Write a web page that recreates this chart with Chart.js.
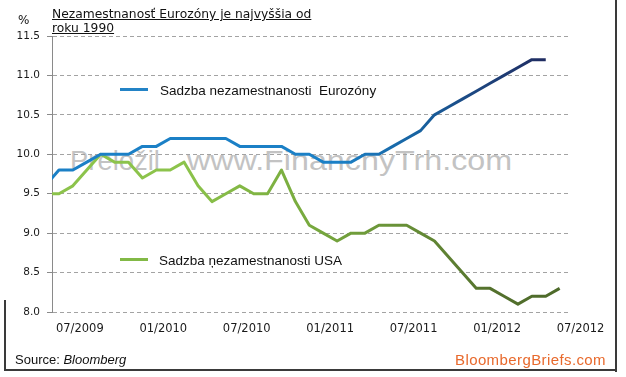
<!DOCTYPE html>
<html>
<head>
<meta charset="utf-8">
<script src="https://cdn.jsdelivr.net/npm/chart.js@4.4.1/dist/chart.umd.min.js"></script>
<style>
  body { margin: 0; background: #fff; }
  #wrap { position: relative; width: 626px; height: 377px; overflow: hidden; }
  #chart { position: absolute; left: 0; top: 0; z-index: 1; }
  .txt { position: absolute; z-index: 2; white-space: nowrap; line-height: 1; color: #111; }
  .wm { position: absolute; z-index: 0; white-space: nowrap; line-height: 1; color: #c3c3c3;
        font: 28px "Liberation Sans", Arial, sans-serif; top: 145px; transform-origin: 0 0; }
  .sample { position: absolute; z-index: 2; width: 28px; height: 3px; }
  .frame { position: absolute; background: #3a3a3a; z-index: 2; }
</style>
</head>
<body>
<div id="wrap">
  <span class="wm" id="wm1" style="left:70px">Preložil</span>
  <span class="wm" id="wm2" style="left:187px">www.FinancnyTrh.com</span>
  <canvas id="chart" width="626" height="377"></canvas>
  <div class="txt" style="left:18px; top:13px; font:12px 'DejaVu Sans', sans-serif;">%</div>
  <div class="txt" style="left:52px; top:7px; font:12.3px 'DejaVu Sans', sans-serif; line-height:14px; text-decoration:underline;">Nezamestnanosť Eurozóny je najvyššia od<br>roku 1990</div>
  <div class="sample" style="left:120px; top:88px; background:#2383c6;"></div>
  <div class="txt" style="left:160px; top:83px; font:13.5px 'Liberation Sans', Arial, sans-serif;">Sadzba nezamestnanosti&nbsp; Eurozóny</div>
  <div class="sample" style="left:120px; top:258px; background:#82b946;"></div>
  <div class="txt" style="left:159px; top:253px; font:13.5px 'Liberation Sans', Arial, sans-serif;">Sadzba ņezamestnanosti USA</div>
  <div class="txt" style="left:15px; top:352px; font:13px 'Liberation Sans', Arial, sans-serif;">Source: <i>Bloomberg</i></div>
  <div class="txt" style="right:20px; top:351px; font:15px 'Liberation Sans', Arial, sans-serif; letter-spacing:0.4px; color:#e8692c;">BloombergBriefs.com</div>
  <div class="frame" style="left:615px; top:0; width:2px; height:372px;"></div>
  <div class="frame" style="left:4px; top:369px; width:613px; height:2px;"></div>
  <div class="frame" style="left:4px; top:300px; width:2px; height:71px;"></div>
</div>
<script>
// months shown, Jun 2009 (cut off at the left edge) to Jul 2012
const months = ['06/2009', '07/2009', '08/2009', '09/2009', '10/2009', '11/2009', '12/2009',
  '01/2010', '02/2010', '03/2010', '04/2010', '05/2010', '06/2010', '07/2010', '08/2010',
  '09/2010', '10/2010', '11/2010', '12/2010', '01/2011', '02/2011', '03/2011', '04/2011',
  '05/2011', '06/2011', '07/2011', '08/2011', '09/2011', '10/2011', '11/2011', '12/2011',
  '01/2012', '02/2012', '03/2012', '04/2012', '05/2012', '06/2012', '07/2012'];

// Eurozone unemployment rate, %, (ends Jun 2012)
const euroRate = [9.6, 9.8, 9.8, 9.9, 10.0, 10.0, 10.0, 10.1, 10.1, 10.2, 10.2, 10.2, 10.2,
  10.2, 10.1, 10.1, 10.1, 10.1, 10.0, 10.0, 9.9, 9.9, 9.9, 10.0, 10.0, 10.1, 10.2, 10.3,
  10.5, 10.6, 10.7, 10.8, 10.9, 11.0, 11.1, 11.2, 11.2];

// US unemployment rate, %
const usRate = [9.5, 9.5, 9.6, 9.8, 10.0, 9.9, 9.9, 9.7, 9.8, 9.8, 9.9, 9.6, 9.4, 9.5, 9.6,
  9.5, 9.5, 9.8, 9.4, 9.1, 9.0, 8.9, 9.0, 9.0, 9.1, 9.1, 9.1, 9.0, 8.9, 8.7, 8.5, 8.3, 8.3,
  8.2, 8.1, 8.2, 8.2, 8.3];

const tickLabels = ['07/2009', '01/2010', '07/2010', '01/2011', '07/2011', '01/2012', '07/2012'];
const yTicks = [8.0, 8.5, 9.0, 9.5, 10.0, 10.5, 11.0, 11.5];

// watermark: stretch each part to the width it has in the original
[['wm1', 90], ['wm2', 325]].forEach(([id, w]) => {
    const el = document.getElementById(id);
    el.style.transform = 'scaleX(' + (w / el.offsetWidth) + ')';
});

// colour that darkens along the x axis
function fade(stops) {
    return (ctx) => {
        const chart = ctx.chart;
        const area = chart.chartArea;
        if (!area) return stops[0][1];
        const xs = chart.scales.x;
        const g = chart.ctx.createLinearGradient(area.left, 0, area.right, 0);
        stops.forEach(([idx, col]) => {
            const t = (xs.getPixelForValue(idx) - area.left) / (area.right - area.left);
            g.addColorStop(Math.min(1, Math.max(0, t)), col);
        });
        return g;
    };
}

const tickFont = { family: 'DejaVu Sans', size: 11.5 };

new Chart(document.getElementById('chart'), {
    type: 'line',
    data: {
        datasets: [
            {
                label: 'Sadzba nezamestnanosti Eurozóny',
                data: euroRate.map((v, i) => ({ x: i, y: v })),
                borderColor: fade([[21, '#1b80c6'], [27, '#17619f'], [31, '#1d4680'], [36, '#1f2b60']]),
                borderWidth: 3,
                pointRadius: 0,
                borderJoinStyle: 'round',
                clip: 0
            },
            {
                label: 'Sadzba nezamestnanosti USA',
                data: usRate.map((v, i) => ({ x: i, y: v })),
                borderColor: fade([[10, '#8cc34b'], [18, '#7aad3f'], [26, '#678f37'], [32, '#54712d'], [37, '#4d6a2a']]),
                borderWidth: 3,
                pointRadius: 0,
                borderJoinStyle: 'round',
                clip: 0
            }
        ]
    },
    options: {
        responsive: false,
        animation: false,
        layout: { padding: { left: 0, top: 36, right: 58, bottom: 30 } },
        plugins: { legend: { display: false }, tooltip: { enabled: false } },
        scales: {
            x: {
                type: 'linear',
                min: 0.5,
                max: 37.6,
                // labels sit where the source puts them, half way between months
                afterBuildTicks: (s) => { s.ticks = tickLabels.map((_, k) => ({ value: 2.5 + 6 * k })); },
                afterFit: (s) => { s.height = 35; },
                grid: { display: false, drawTicks: false },
                border: { display: false },
                ticks: {
                    autoSkip: false,
                    maxRotation: 0,
                    padding: 10,
                    color: '#1a1a1a',
                    font: tickFont,
                    callback: (v, i) => tickLabels[i]
                }
            },
            y: {
                min: 8,
                max: 11.5,
                afterBuildTicks: (s) => { s.ticks = yTicks.map(v => ({ value: v })); },
                afterFit: (s) => { s.width = 52; },
                grid: { color: '#a3a3a3', tickLength: 5, tickColor: '#8a8a8a', tickBorderDash: [] },
                border: { display: true, color: '#8a8a8a', dash: [4, 3] },
                ticks: {
                    padding: 7,
                    color: '#1a1a1a',
                    font: { family: 'DejaVu Sans', size: 10.5 },
                    callback: (v) => v.toFixed(1)
                }
            }
        }
    }
});
</script>
</body>
</html>
